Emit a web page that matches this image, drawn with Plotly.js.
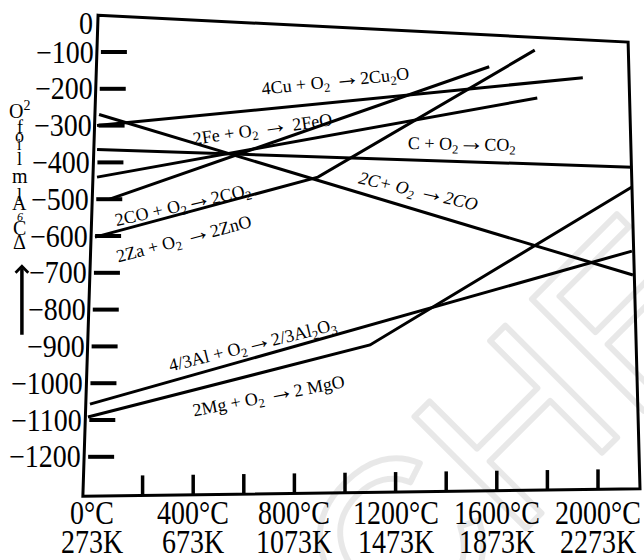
<!DOCTYPE html>
<html>
<head>
<meta charset="utf-8">
<script src="https://cdn.plot.ly/plotly-3.0.1.min.js"></script>
<style>html,body{margin:0;padding:0;background:#fff;}</style>
</head>
<body>
<div id="chart" style="width:644px;height:560px;"></div>
<script>
// ---- Data: temperature (°C) vs ΔG° (kJ per mol O2) ----
const cuT   = [20, 1940];        const cuG   = [-300, -170];
const feT   = [20, 1760];        const feG   = [-440, -225];
const coT   = [70, 1570];        const coG   = [-500, -140];
const co2T  = [20, 2135];        const co2G  = [-365, -413];
const c2coT = [28, 2138];        const c2coG = [-270, -706];
const znT   = [12, 893, 1750];   const znG   = [-603, -440, -95];
const alT   = [-8, 2134];        const alG   = [-1057, -641];
const mgT   = [-16, 1099, 2134]; const mgG   = [-1092, -896, -467];

// ---- Tick labels ----
const yTickVals = [0, -100, -200, -300, -400, -500, -600, -700, -800, -900, -1000, -1100, -1200];
const yTickText = ['0', '−100', '−200', '−300', '−400', '−500', '−600', '−700', '−800', '−900', '−1000', '−1100', '−1200'];
const xLabelVals = [0, 400, 800, 1200, 1600, 2000];
const xLabelC = ['0°C', '400°C', '800°C', '1200°C', '1600°C', '2000°C'];
const xLabelK = ['273K', '673K', '1073K', '1473K', '1873K', '2273K'];
const xTickVals = [200, 400, 600, 800, 1000, 1200, 1400, 1600, 1800, 2000];

// ---- Reaction labels ----
const ARROW = '<span style="font-size:26px;font-weight:bold">→</span>';
const reactionText = [
  '4Cu + O<sub>2</sub> ' + ARROW + '2Cu<sub>2</sub>O',
  '2Fe + O<sub>2</sub> ' + ARROW + ' 2FeO',
  'C + O<sub>2</sub>' + ARROW + 'CO<sub>2</sub>',
  '<i>2C+ O<sub>2</sub> ' + ARROW + '2CO</i>',
  '2CO + O<sub>2</sub>' + ARROW + '2CO<sub>2</sub>',
  '2Za + O<sub>2</sub> ' + ARROW + '2ZnO',
  '4/3Al + O<sub>2</sub>' + ARROW + '2/3Al<sub>2</sub>O<sub>3</sub>',
  '2Mg + O<sub>2</sub> ' + ARROW + '2 MgO'
];
// axis title as it appears in the picture: glyphs stacked vertically
const titleGlyphs = ['O<sup>2</sup>', 'f', 'o', 'i', 'l', 'm', 'l', 'A', '<i>6</i>', 'C', 'Δ'];

// ---- Layout geometry (not data) ----
const X_RANGE = [-363.6, 2181.8];
const Y_RANGE = [-1480.4, 41.3];
const PX_T = (X_RANGE[1] - X_RANGE[0]) / 644;   // °C per pixel
const PX_G = (Y_RANGE[1] - Y_RANGE[0]) / 560;   // kJ per pixel
const frameT = [24, 2119, 2166, -36];
const frameG = [0, -73, -1287, -1307];
const reactionPos = [[960, -173, -6], [672, -304, -8], [1462, -345, 1], [1289, -473, 13],
                     [356, -510, -13], [360, -604, -15], [632, -890, -14], [696, -1030, -11]];
const titleY = [-258, -304, -328, -352, -390, -437, -488, -510, -548, -578, -616];
const titleSize = [20, 18, 18, 16, 18, 20, 18, 20, 12, 20, 20];

function leftEdgeT(g) { return frameT[0] + (frameT[3] - frameT[0]) * (g - frameG[0]) / (frameG[3] - frameG[0]); }
function bottomG(t) { return frameG[3] + (frameG[2] - frameG[3]) * (t - frameT[3]) / (frameT[2] - frameT[3]); }

const lineStyle = {color: '#000', width: 3};
const series = [[cuT, cuG], [feT, feG], [coT, coG], [co2T, co2G], [c2coT, c2coG], [znT, znG], [alT, alG], [mgT, mgG]];
const traces = series.map(s => ({x: s[0], y: s[1], type: 'scatter', mode: 'lines', line: lineStyle, hoverinfo: 'skip', showlegend: false}));

const shapes = [];
shapes.push({type: 'path', xref: 'x', yref: 'y',
  path: 'M' + frameT[0] + ',' + frameG[0] + ' L' + frameT[1] + ',' + frameG[1] + ' L' + frameT[2] + ',' + frameG[2] + ' L' + frameT[3] + ',' + frameG[3] + ' Z',
  line: {color: '#000', width: 3}, fillcolor: 'rgba(0,0,0,0)', layer: 'above'});
yTickVals.forEach(g => {
  if (g === 0) return;
  const x0 = leftEdgeT(g) + 4 * PX_T;
  shapes.push({type: 'line', xref: 'x', yref: 'y', x0: x0, x1: x0 + 26 * PX_T, y0: g, y1: g, line: {color: '#000', width: 4}});
});
xTickVals.forEach(t => {
  const g0 = bottomG(t);
  shapes.push({type: 'line', xref: 'x', yref: 'y', x0: t, x1: t, y0: g0, y1: g0 + 20 * PX_G, line: {color: '#000', width: 3.5}});
});

const serif = 'Liberation Serif, Times New Roman, serif';
const annotations = [];
yTickVals.forEach((g, i) => {
  annotations.push({x: leftEdgeT(g), y: g, xref: 'x', yref: 'y', text: yTickText[i], showarrow: false,
    xanchor: 'right', yanchor: 'middle', xshift: g === 0 ? -3 : -1, yshift: g === 0 ? -8 : 0,
    font: {family: serif, size: 28, color: '#000'}});
});
xLabelVals.forEach((t, i) => {
  annotations.push({x: t, y: -1350, xref: 'x', yref: 'y', text: xLabelC[i], showarrow: false,
    xanchor: 'center', yanchor: 'middle', font: {family: serif, size: 28, color: '#000'}});
  annotations.push({x: t, y: -1430, xref: 'x', yref: 'y', text: xLabelK[i], showarrow: false,
    xanchor: 'center', yanchor: 'middle', font: {family: serif, size: 28, color: '#000'}});
});
reactionText.forEach((txt, i) => {
  const p = reactionPos[i];
  annotations.push({x: p[0], y: p[1], xref: 'x', yref: 'y', text: txt, showarrow: false, textangle: p[2],
    xanchor: 'center', yanchor: 'middle', font: {family: serif, size: 18, color: '#000'}});
});
titleGlyphs.forEach((gl, i) => {
  annotations.push({x: -285, y: titleY[i], xref: 'x', yref: 'y', text: gl, showarrow: false,
    xanchor: 'center', yanchor: 'middle', font: {family: serif, size: titleSize[i], color: '#000'}});
});
// upward arrow beside the axis title
annotations.push({x: -277, y: -677, xref: 'x', yref: 'y', text: '', showarrow: true, ax: 0, ay: 72,
  arrowhead: 4, arrowsize: 0.7, arrowwidth: 3.5, arrowcolor: '#000'});
// faint watermark
annotations.push({x: 1655, y: -1130, xref: 'x', yref: 'y', text: 'CHE', showarrow: false, textangle: -45,
  xanchor: 'center', yanchor: 'middle', font: {family: 'Liberation Sans, Arial, sans-serif', size: 230, color: 'rgba(0,0,0,0.08)'}});

const layout = {
  width: 644, height: 560,
  margin: {l: 0, r: 0, t: 0, b: 0, pad: 0},
  paper_bgcolor: '#fff', plot_bgcolor: '#fff',
  showlegend: false,
  xaxis: {range: X_RANGE, showgrid: false, zeroline: false, showline: false, showticklabels: false, ticks: '', fixedrange: true},
  yaxis: {range: Y_RANGE, showgrid: false, zeroline: false, showline: false, showticklabels: false, ticks: '', fixedrange: true},
  shapes: shapes,
  annotations: annotations
};

Plotly.newPlot('chart', traces, layout, {displayModeBar: false, staticPlot: true}).then(() => {
  const xl = new Set(xLabelC.concat(xLabelK));
  const yl = new Set(yTickText);
  document.querySelectorAll('.annotation-text').forEach(el => {
    const t = el.textContent;
    if (t === 'CHE') {
      el.style.fill = 'none';
      el.style.stroke = 'rgba(0,0,0,0.09)';
      el.style.strokeWidth = '6px';
      el.style.strokeLinejoin = 'round';
    } else if (xl.has(t) || yl.has(t)) {
      el.style.transformBox = 'fill-box';
      el.style.transformOrigin = 'center';
      el.style.transform = xl.has(t) ? 'scaleY(1.18)' : 'scaleY(1.1)';
    }
  });
});
</script>
</body>
</html>
